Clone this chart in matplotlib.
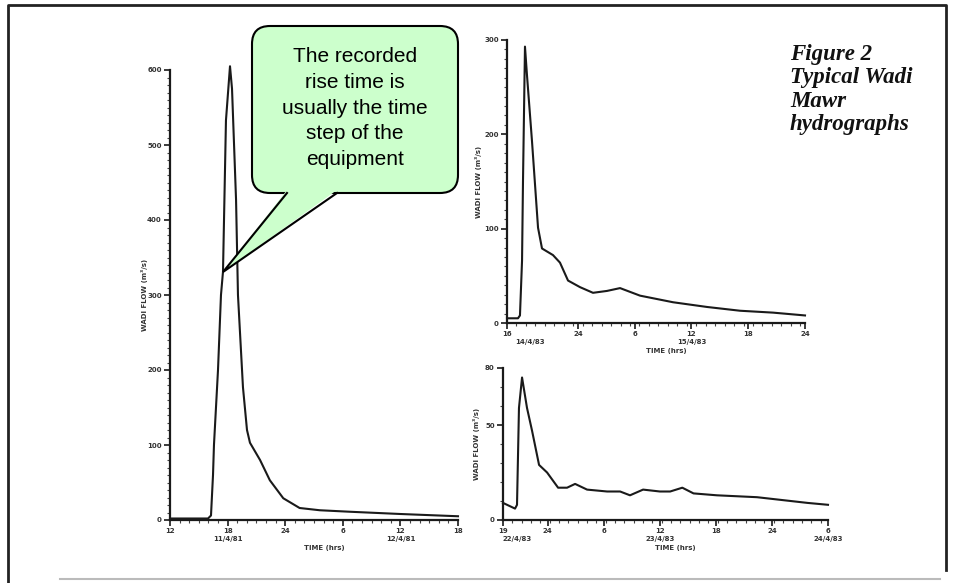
"""Typical Wadi Mawr hydrographs (scanned figure with a callout)."""

import matplotlib

matplotlib.use("Agg")
import matplotlib.pyplot as plt
from matplotlib.patches import FancyBboxPatch, Polygon
from matplotlib.ticker import FixedLocator, MultipleLocator

W, H = 957, 583

# left hydrograph: hours from axis start, flow (m3/s)
left_hours = [0, 3.65, 3.96, 4.27, 4.48, 4.58, 5.0, 5.31, 5.52, 5.83, 6.25, 6.46,
              6.88, 7.08, 7.6, 8.02, 8.33, 9.38, 10.4, 11.8, 13.5, 15.6, 18.75, 24.0, 30.0]
left_flow = [2, 2, 2, 6, 60, 100, 200, 300, 331, 533, 605, 575,
             427, 300, 177, 120, 103, 80, 53, 29, 16, 13, 11, 8, 5]
left_ticks = [0, 6, 12, 18, 24, 30]
left_ticklabels = ["12", "18", "24", "6", "12", "18"]
left_dates = [(6, "11/4/81"), (24, "12/4/81")]

# top-right hydrograph
top_hours = [0, 1.16, 1.37, 1.59, 1.69, 1.9, 2.11, 2.64, 3.28, 3.7, 4.86, 5.6,
             6.45, 7.72, 9.09, 10.57, 11.95, 14.06, 17.55, 21.14, 24.63, 28.12, 31.5]
top_flow = [5, 5, 8, 66, 150, 293, 263, 193, 101, 79, 72, 64,
            45, 38, 32, 34, 37, 29, 22, 17, 13, 11, 8]
top_ticks = [0, 7.5, 13.5, 19.5, 25.5, 31.5]
top_ticklabels = ["16", "24", "6", "12", "18", "24"]
top_dates = [(2.4, "14/4/83"), (19.5, "15/4/83")]

# bottom-right hydrograph
bot_hours = [0, 1.29, 1.5, 1.71, 2.04, 2.57, 3.11, 3.86, 4.72, 5.9, 6.86, 7.72,
             9.0, 11.15, 12.54, 13.6, 15.0, 16.8, 17.9, 19.2, 20.4, 22.9, 27.2, 32.6, 34.8]
bot_flow = [9, 6, 8, 59, 75, 59, 47, 29, 25, 17, 17, 19,
            16, 15, 15, 13, 16, 15, 15, 17, 14, 13, 12, 9, 8]
bot_ticks = [0, 4.8, 10.8, 16.8, 22.8, 28.8, 34.8]
bot_ticklabels = ["19", "24", "6", "12", "18", "24", "6"]
bot_dates = [(1.5, "22/4/83"), (16.8, "23/4/83"), (34.8, "24/4/83")]

callout_text = "The recorded\nrise time is\nusually the time\nstep of the\nequipment"
caption = "Figure 2\nTypical Wadi\nMawr\nhydrographs"

INK = "#1a1a1a"
SMALL = dict(fontsize=5, fontweight="bold", color="#333333")


def px_axes(fig, x0, y0, x1, y1):
    return fig.add_axes([x0 / W, 1 - y1 / H, (x1 - x0) / W, (y1 - y0) / H])


def hydrograph(ax, hours, flow, xmax, ymax, ticks, labels, yticks, dates, ylab_x):
    ax.plot(hours, flow, color=INK, lw=1.5, clip_on=False)
    ax.set_xlim(0, xmax)
    ax.set_ylim(0, ymax)
    for side in ("top", "right"):
        ax.spines[side].set_visible(False)
    for side in ("left", "bottom"):
        ax.spines[side].set_linewidth(1.6)
        ax.spines[side].set_color(INK)
    ax.set_facecolor("none")
    ax.xaxis.set_major_locator(FixedLocator(ticks))
    ax.set_xticklabels(labels, **SMALL)
    ax.xaxis.set_minor_locator(MultipleLocator(1))
    ax.yaxis.set_major_locator(FixedLocator(yticks))
    ax.set_yticklabels([str(v) for v in yticks], **SMALL)
    ax.yaxis.set_minor_locator(MultipleLocator(10))
    ax.tick_params(which="major", length=4, width=1.2, color=INK, pad=2)
    ax.tick_params(which="minor", length=2, width=0.8, color="#444444")
    for x, d in dates:
        ax.annotate(d, xy=(x, 0), xycoords=("data", "axes fraction"),
                    xytext=(0, -16), textcoords="offset pixels",
                    ha="center", va="top", **SMALL)
    ax.annotate("TIME (hrs)", xy=(0.5, 0), xycoords="axes fraction",
                xytext=(10, -25), textcoords="offset pixels",
                ha="center", va="top", **SMALL)
    ax.text(ylab_x, 0.5, "WADI FLOW (m\u00b3/s)", transform=ax.transAxes, rotation=90,
            ha="center", va="center", **SMALL)


fig = plt.figure(figsize=(W / 100, H / 100), dpi=100)

ax_left = px_axes(fig, 170, 70, 458, 520)
hydrograph(ax_left, left_hours, left_flow, 30, 600, left_ticks, left_ticklabels,
           [0, 100, 200, 300, 400, 500, 600], left_dates, -0.09)

ax_top = px_axes(fig, 507, 40, 805, 323)
hydrograph(ax_top, top_hours, top_flow, 31.5, 300, top_ticks, top_ticklabels,
           [0, 100, 200, 300], top_dates, -0.095)

ax_bot = px_axes(fig, 503, 368, 828, 520)
hydrograph(ax_bot, bot_hours, bot_flow, 34.8, 80, bot_ticks, bot_ticklabels,
           [0, 50, 80], bot_dates, -0.08)

# overlay in pixel coordinates for frame, callout and caption
ov = fig.add_axes([0, 0, 1, 1])
ov.set_xlim(0, W)
ov.set_ylim(H, 0)
ov.axis("off")
ov.patch.set_alpha(0)

ov.plot([8, 8, 946, 946], [583, 5, 5, 570], color="#222222", lw=2)
ov.plot([60, 940], [579, 579], color="#bbbbbb", lw=1.5)

green = "#ccffcc"
box = FancyBboxPatch((252, 26), 206, 167, boxstyle="round,pad=0,rounding_size=18",
                     facecolor=green, edgecolor="black", lw=1.5, zorder=3)
ov.add_patch(box)
tail = [(287, 190), (337, 190), (223, 272)]
ov.add_patch(Polygon(tail, closed=True, facecolor=green, edgecolor="none", zorder=4))
ov.plot([287, 223, 337], [193, 272, 193], color="black", lw=1.5, zorder=5,
        solid_joinstyle="miter")
ov.text(355, 108, callout_text, ha="center", va="center", fontsize=15,
        family=["Liberation Sans", "DejaVu Sans"], linespacing=1.45, zorder=6)

ov.text(790, 44, caption, ha="left", va="top", fontsize=16.5, style="italic",
        fontweight="bold", family=["Liberation Serif", "DejaVu Serif"],
        linespacing=1.15, color="#111111")

fig.savefig("out.png", dpi=100)
plt.close(fig)
